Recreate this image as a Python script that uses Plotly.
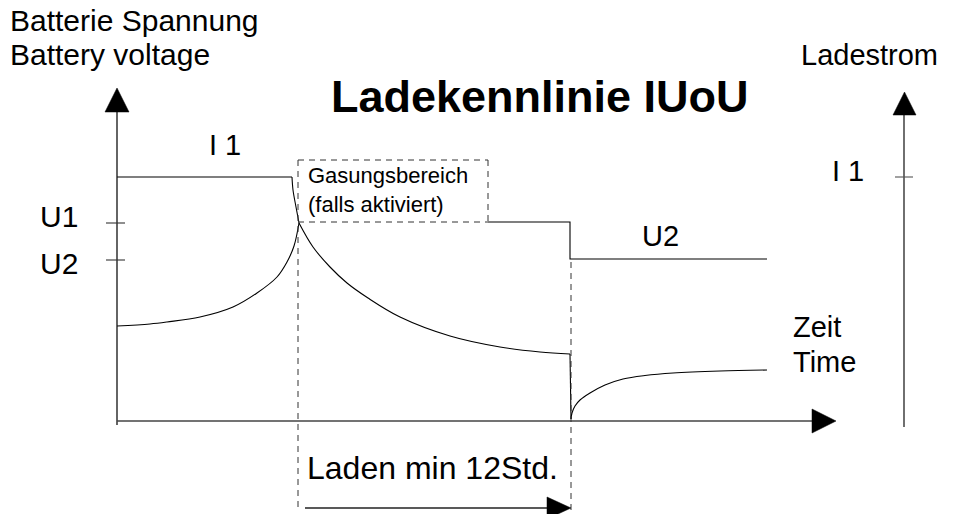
import plotly.graph_objects as go

# ---- data (diagram coordinates: x = time, y = level, screen-like, y downwards) ----
# Charging current I: constant I1, short fall, decay, cut-off, recovery
curr_const_t = [117, 292]
curr_const_v = [177, 177]
curr_fall_t = [292, 293, 296, 299]
curr_fall_v = [177, 190, 207, 223]
curr_decay_t = [299, 313, 330, 347, 368, 400, 450, 500, 540, 570]
curr_decay_v = [223, 247, 267, 283, 298, 317, 336, 347, 352, 354]
curr_cut_t = [570, 571]
curr_cut_v = [354, 419]
curr_rec_t = [571, 572, 575, 580, 590, 605, 623, 645, 673, 720, 767]
curr_rec_v = [419, 413, 406, 400, 393, 385, 379, 375.5, 373, 371, 370]

# Battery voltage U: rising to U1, hold U1, step to U2
volt_t = [117, 150, 167, 200, 233, 257, 277, 287, 294, 299]
volt_v = [326, 324, 322, 317, 307, 293, 277, 262, 246, 223]
volt_hold_t = [488, 570, 570, 767]
volt_hold_v = [222, 222, 259, 259]

# tick labels
left_ticks = ["U1", "U2"]
left_tick_pos = [223, 260]
right_ticks = ["I 1"]
right_tick_pos = [177]

fig = go.Figure()

line_col = "#000000"
axis_col = "#444444"

def curve(t, v, spline=True):
    fig.add_trace(go.Scatter(x=t, y=v, mode="lines",
                             line=dict(color=line_col, width=1.1,
                                       shape="spline" if spline else "linear", smoothing=1.0),
                             hoverinfo="skip"))

curve(curr_const_t, curr_const_v, spline=False)
curve(curr_fall_t, curr_fall_v)
curve(curr_decay_t, curr_decay_v)
curve(curr_cut_t, curr_cut_v, spline=False)
curve(curr_rec_t, curr_rec_v)
curve(volt_t, volt_v)
curve(volt_hold_t, volt_hold_v, spline=False)

shapes = []
def ln(x0, y0, x1, y1, color=axis_col, width=1.3, dash="solid"):
    shapes.append(dict(type="line", x0=x0, y0=y0, x1=x1, y1=y1, xref="x", yref="y",
                       line=dict(color=color, width=width, dash=dash)))

def tri(path):
    shapes.append(dict(type="path", path=path, xref="x", yref="y", fillcolor="#000000",
                       line=dict(color="#000000", width=0.5)))

# left axis + arrow
ln(117, 425, 117, 111, color="#111111")
tri("M 105 112 L 129 112 L 117 88 Z")
for p in left_tick_pos:
    ln(106, p, 125, p, color="#333333", width=1.1)
# x axis + arrow
ln(117, 421, 813, 421)
tri("M 812 409 L 812 433 L 836 421 Z")
# right axis + arrow
ln(904, 427, 904, 114, color="#222222")
tri("M 893 115 L 916 115 L 904.5 92 Z")
for p in right_tick_pos:
    ln(895, p, 913, p, color="#555555", width=1.1)

# dashed lines and box
dash = "6px,5px"
dc = "#333333"
ln(298, 160, 298, 512, color=dc, width=1, dash=dash)
ln(571, 262, 571, 514, color=dc, width=1, dash=dash)
ln(298, 160, 488, 160, color=dc, width=1, dash=dash)
ln(488, 160, 488, 222, color=dc, width=1, dash=dash)
ln(298, 222, 488, 222, color=dc, width=1, dash=dash)

# bottom duration arrow
ln(305, 508, 550, 508, color="#222222", width=1.3)
tri("M 547 497 L 547 519 L 571 508 Z")

fig.update_layout(shapes=shapes)

F = "Liberation Sans, Arial, sans-serif"
def txt(s, x, y, size, xanchor="left", bold=False, align="left"):
    fig.add_annotation(x=x, y=y, xref="x", yref="y", text=("<b>%s</b>" % s) if bold else s,
                       showarrow=False, xanchor=xanchor, yanchor="middle", align=align,
                       font=dict(family=F, size=size, color="#000000"))

txt("Batterie Spannung", 8, 20, 30)
txt("Battery voltage", 8, 54, 30)
txt("Ladekennlinie IUoU", 540, 96, 45, xanchor="center", bold=True)
txt("Ladestrom", 799, 55, 29)
txt(right_ticks[0], 848, 171, 29, xanchor="center")
txt("I 1", 225, 145, 29, xanchor="center")
txt(left_ticks[0], 59, 216, 30, xanchor="center")
txt(left_ticks[1], 59, 263, 30, xanchor="center")
txt("U2", 660, 236, 29, xanchor="center")
txt("Zeit", 791, 327, 29)
txt("Time", 791, 362, 29)
txt("Gasungsbereich<br>(falls aktiviert)", 306, 190, 22)
txt("Laden min 12Std.", 305, 468, 32)

fig.update_layout(
    width=955, height=514,
    margin=dict(l=0, r=0, t=0, b=0),
    paper_bgcolor="white", plot_bgcolor="white",
    showlegend=False,
    xaxis=dict(range=[0, 955], visible=False, fixedrange=True),
    yaxis=dict(range=[514, 0], visible=False, fixedrange=True),
)

fig.write_html("out.html", config={"displayModeBar": False},
               post_script="document.body.style.margin='0';document.body.style.overflow='hidden';")
